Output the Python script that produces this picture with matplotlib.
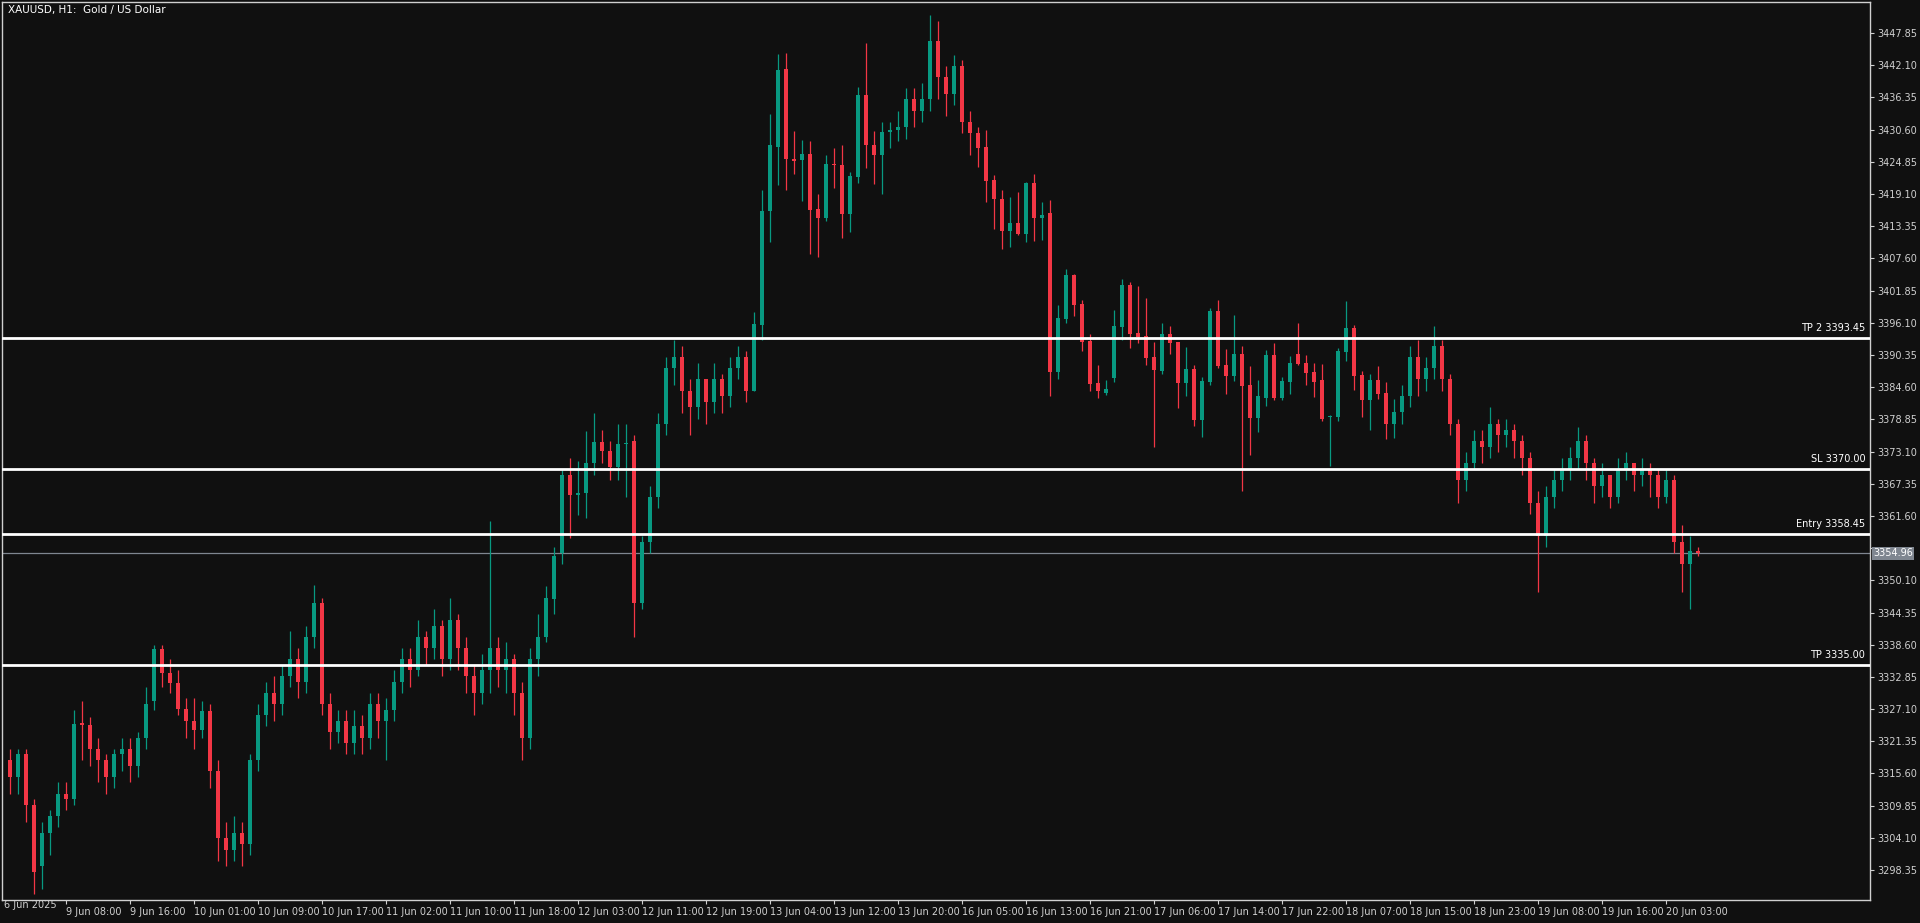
import matplotlib
matplotlib.use("Agg")
import matplotlib.pyplot as plt
import numpy as np

opens = [3318,3315,3319,3310,3299,3305,3308,3312,3311,3324.5,
3324.3,3320,3318,3315,3319,3320,3317,3322,3328.5,3337.8,
3333.6,3331.7,3327.1,3325,3323.4,3326.8,3316,3304,3302,3305,
3303,3318,3326,3330,3328,3333,3336,3332,3340,3346,
3328,3323,3325,3321,3324,3322,3328,3325,3327,3332,
3336,3334,3340,3338,3342,3336,3343,3338,3333,3330,
3334,3338,3334,3336,3330,3322,3336,3340,3346.7,3355,
3368.9,3365.3,3365.7,3371,3374.8,3373.2,3370.3,3374.4,3375,3346,
3357,3365,3378,3388,3390,3384,3381,3386,3382,3386,
3383,3388,3390,3384,3395.7,3416,3427.5,3441.4,3425.3,3425.2,
3426.2,3416.4,3414.8,3424.4,3424.2,3415.6,3422.1,3436.8,3427.8,3426,
3430.2,3430.5,3431,3436,3434,3436,3446.5,3440,3437,3442,
3432,3430,3427.5,3421.6,3418.3,3412.5,3413.9,3411.9,3421,3414.8,
3415.7,3387.3,3396.8,3404.6,3399.4,3392.8,3385.3,3383.5,3386.2,3395.4,
3402.8,3394.3,3393.7,3390,3387.5,3394.1,3392.6,3385.4,3387.8,3378.7,
3385.5,3398.2,3388.5,3386.6,3390.5,3385,3379.1,3382.7,3390.3,3382.7,
3385.5,3390.5,3388.9,3387.3,3385.9,3379.2,3379.2,3390.9,3395.1,3386.8,
3382.3,3385.9,3383.5,3378,
3380.2,3383,3390,3386,3388,3392,3386,3378,3368,3371,3375,3374,3378,3376,3377,3375,3372,3364,3358,3365,
3368,3370,3372,3375,3371,3367,3369,3365,3370,3371,3369,3370,3369,3365,3368,3357,3353,3355.4]

closes = [3315,3319,3310,3298,3305,3308,3312,3311,3324.5,3324.3,
3320,3318,3315,3319,3320,3317,3322,3328,3337.8,3333.6,
3331.7,3327.1,3325,3323.4,3326.8,3316,3304,3302,3305,3303,
3318,3326,3330,3328,3333,3336,3332,3340,3346,3328,
3323,3325,3321,3324,3322,3328,3325,3327,3332,3336,
3334,3340,3338,3342,3336,3343,3338,3333,3330,3334,
3338,3334,3336,3330,3322,3336,3340,3347,3354.5,3368.9,
3365.3,3365.7,3371,3374.8,3373.2,3370.3,3374.4,3374.6,3346,3357,
3365,3378,3388,3390,3384,3381,3386,3382,3386,3383,
3388,3390,3384,3395.9,3416,3427.8,3441.2,3425.3,3425,3426.2,
3416.3,3414.8,3424.4,3424.3,3415.6,3422.3,3436.8,3427.8,3426,3430.2,
3430.5,3431,3436,3434,3436,3446.5,3440,3437,3442,3432,
3430,3427.4,3421.4,3418.2,3412.5,3413.9,3411.9,3421,3414.8,3415.4,
3387.3,3397,3404.6,3399.3,3392.7,3385.2,3384,3384.2,3395.5,3402.8,
3394.1,3393.5,3389.9,3387.7,3394.1,3392.5,3385.4,3387.8,3378.7,3385.7,
3398.2,3388.4,3386.6,3390.5,3384.8,3379.1,3383,3390.3,3382.7,3385.7,
3388.9,3388.7,3387.1,3385.5,3378.9,3379.4,3391,3395.1,3386.6,3382.3,
3385.9,3383.4,3378,3380.2,
3383,3390,3386,3388,3392,3386,3378,3368,3371,3375,3374,3378,3376,3377,3375,3372,3364,3358,3365,3368,
3370,3372,3375,3371,3367,3369,3365,3370,3371,3369,3370,3369,3365,3368,3357,3353,3355.4,3354.96]

highs = [3320,3320,3320,3311,3307,3309,3314,3314,3327,3328.5,
3325.7,3322,3319,3320,3322,3322,3323,3331,3338.5,3338.5,
3336,3334,3329,3329,3328.5,3328,3318,3307,3308,3307,
3319,3328,3332,3333,3335,3341,3338,3342,3349.3,3347,
3330,3327,3327,3327,3326,3330,3330,3329,3334,3338,
3338,3343,3341,3345,3343,3347,3344,3340,3335,3337,
3360.7,3340,3339,3337,3332,3338,3344,3349,3356,3370,
3372,3371.4,3376.7,3380,3377,3375,3378,3378,3376,3358,
3367,3380,3390,3393,3392,3386,3389,3386,3389,3387,
3390,3392,3391,3398,3419.8,3433.4,3444.1,3444.3,3430.3,3428.7,
3428.5,3419.1,3426,3427.4,3427.8,3423,3438.3,3446,3430.3,3432,
3432,3434,3438,3438,3439,3451,3450,3442,3444,3443,
3434,3431,3430.5,3422.5,3419.8,3418.5,3419.4,3421.2,3422.6,3417.6,
3418,3399.3,3405.7,3404.8,3400.1,3394.1,3388.5,3385.9,3398.4,3404,
3403.4,3402.6,3400.5,3392.6,3396,3395.5,3392.6,3391.8,3388.5,3386.5,
3398.7,3400.1,3391.4,3397.5,3391.9,3388.4,3385.9,3391.2,3392.5,3386.4,
3390.2,3396,3390.3,3388.9,3388.7,3379.6,3391.6,3400,3395.7,3387.5,
3387,3388.4,3385.5,3382.5,
3385,3392,3393,3390,3395.5,3393,3387,3379,3373,3377,3377,3381,3379,3379,3378,3376,3373,3366,3367,3370,
3372,3374,3377.5,3376,3372,3371,3369,3372,3373,3371,3372,3371,3370,3370,3369,3360,3358,3356]

lows = [3312,3312,3307,3294,3295,3301,3306,3309,3310,3318,
3317,3314,3312,3313,3316,3314,3315,3320,3327,3331,
3330,3326,3322,3320,3322,3313,3300,3299,3300,3299,
3301,3316,3324,3325,3326,3331,3329,3330,3338,3326,
3320,3321,3319,3319,3319,3320,3322,3318,3325,3330,
3331,3333,3335,3336,3333,3334,3334,3330,3326,3328,
3330,3331,3330,3326,3318,3320,3333,3339,3344,3353,
3357.6,3361.8,3361.2,3369,3371,3368,3368,3365,3340,3345,
3355,3363,3376,3385,3380,3376,3379,3378,3380,3380,
3381,3386,3382,3384,3393,3410.5,3420.8,3419.8,3422.6,3417.9,
3408.4,3407.9,3414.3,3420.1,3411.3,3412.3,3421,3423.8,3420.9,3419.1,
3427.3,3428.5,3429,3431,3432,3434,3436,3433,3435,3430,
3426,3424,3417.6,3412.8,3409.3,3409.6,3411.8,3410.5,3410.7,3410.9,
3383,3386,3396,3397.3,3391,3383.9,3382.6,3383.2,3385.5,3393,
3391.6,3392.5,3388.5,3374,3386.9,3390.5,3380.9,3383,3377.7,3375.7,
3385,3388,3383.4,3385.7,3366.1,3372.5,3376.6,3381.2,3382.3,3382.3,
3383.4,3388.5,3385,3382.8,3378.5,3370.5,3378.5,3389.3,3384.1,3379.3,
3377,3382.5,3375.3,3375.5,
3378,3381,3383,3384,3386,3384,3376,3364,3366,3370,3371,3372,3373,3374,3372,3369,3362,3348,3356,3363,
3366,3368,3370,3368,3364,3365,3363,3364,3368,3366,3367,3365,3363,3364,3355,3348,3345,3354.5]

x_labels = ["9 Jun 08:00","9 Jun 16:00","10 Jun 01:00","10 Jun 09:00","10 Jun 17:00",
"11 Jun 02:00","11 Jun 10:00","11 Jun 18:00","12 Jun 03:00","12 Jun 11:00","12 Jun 19:00",
"13 Jun 04:00","13 Jun 12:00","13 Jun 20:00","16 Jun 05:00","16 Jun 13:00","16 Jun 21:00",
"17 Jun 06:00","17 Jun 14:00","17 Jun 22:00","18 Jun 07:00","18 Jun 15:00","18 Jun 23:00",
"19 Jun 08:00","19 Jun 16:00","20 Jun 03:00"]
level_names = ["TP 2", "SL", "Entry", "TP"]
level_values = [3393.45, 3370.00, 3358.45, 3335.00]
last_price = 3354.96

n = min(len(opens), len(closes), len(highs), len(lows))
o = np.array(opens[:n]); c = np.array(closes[:n]); h = np.array(highs[:n]); l = np.array(lows[:n])
h = np.maximum(h, np.maximum(o, c)); l = np.minimum(l, np.minimum(o, c))
x = np.arange(n)

BG = "#101010"; UP = "#089981"; DN = "#F23645"
fig = plt.figure(figsize=(19.2, 9.23), dpi=100, facecolor=BG)
ax = fig.add_axes([2/1920, 1-900/923, 1868/1920, 898/923], facecolor=BG)
ax.set_xlim(-1, -1 + 1868/8)
ax.set_ylim(3293.0, 3453.4)

cols = np.where(c >= o, UP, DN)
ax.vlines(x, l, h, colors=cols, linewidth=0.9, zorder=2)
body = np.abs(c - o)
body = np.where(body < 0.25, 0.25, body)
ax.bar(x, body, bottom=np.minimum(o, c), width=0.62, color=cols, linewidth=0, zorder=3)

for name, v in zip(level_names, level_values):
    ax.axhline(v, color="white", linewidth=2, zorder=4)
    ax.text(ax.get_xlim()[1] - 0.6, v + 0.9, f"{name} {v:.2f}", color="white",
            fontsize=7, ha="right", va="bottom", zorder=5)
ax.axhline(last_price, color="#7f8690", linewidth=0.9, zorder=1)

for s in ax.spines.values():
    s.set_color("#d0d0d0"); s.set_linewidth(1)

yt = 3298.35 + 5.75 * np.arange(27)
ax.yaxis.tick_right()
ax.set_yticks(yt)
ax.set_yticklabels([f"{v:.2f}" if abs(v - last_price) > 2 else "" for v in yt])
ax.tick_params(axis="y", colors="#d0d0d0", labelsize=7, length=3, pad=2)
ax.text(1.0 + 3/1868, last_price, f"{last_price:.2f}", transform=ax.get_yaxis_transform(),
        fontsize=7, color="white", va="center", ha="left",
        bbox=dict(boxstyle="square,pad=0.15", fc="#7f8690", ec="none"), clip_on=False)

xt = 7 + 8 * np.arange(len(x_labels))
ax.set_xticks(list(xt))
ax.set_xticklabels(x_labels, ha="left")
ax.tick_params(axis="x", colors="#d0d0d0", labelsize=7, length=3, pad=2)
ax.text(-0.8, 3293.0, "6 Jun 2025", color="#d0d0d0", fontsize=7, ha="left", va="top",
        transform=ax.transData, clip_on=False)
for lab in ax.get_xticklabels():
    lab.set_color("#d0d0d0")

ax.text(0.003, 0.997, "XAUUSD, H1:  Gold / US Dollar", transform=ax.transAxes,
        color="white", fontsize=7.5, ha="left", va="top")

fig.savefig("out.png", dpi=100, facecolor=BG)
